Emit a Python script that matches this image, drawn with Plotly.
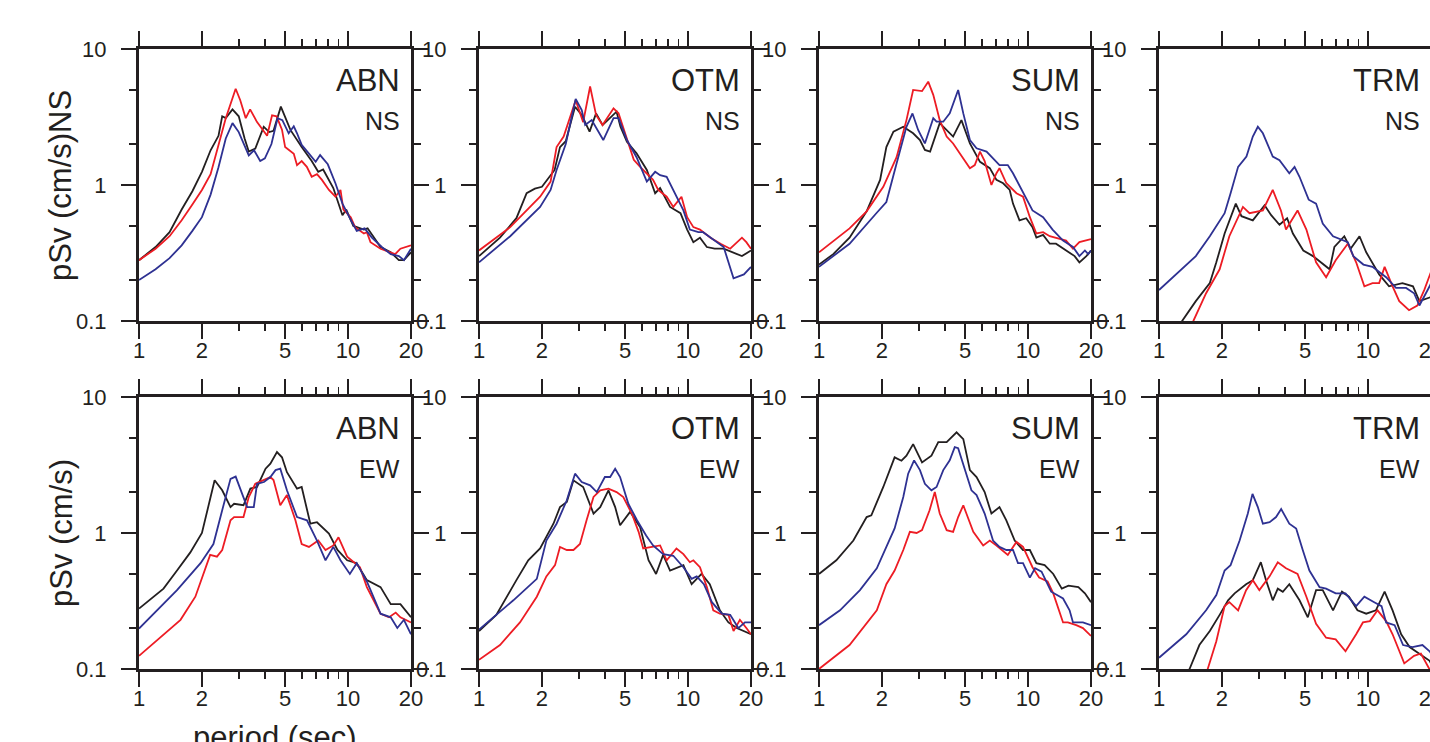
import math
import plotly.graph_objects as go

# ---------------- data (period in s, pSv in cm/s) ----------------
# ABN NS
abn_ns_black_T = [1.0, 1.2, 1.4, 1.6, 1.8, 2.0, 2.2, 2.4, 2.5, 2.6, 2.8, 3.0, 3.2, 3.35, 3.6, 3.95, 4.2, 4.4, 4.77, 5.3, 6.0, 6.7, 7.2, 7.6, 8.5, 9.4, 9.8, 10.6, 11.9, 12.4, 14.3, 16, 17.5, 18.5, 20]
abn_ns_black_V = [0.28, 0.35, 0.45, 0.66, 0.9, 1.25, 1.8, 2.3, 3.2, 3.1, 3.6, 3.2, 2.2, 1.76, 1.85, 2.68, 2.45, 2.5, 3.77, 2.54, 1.9, 1.5, 1.25, 1.3, 0.95, 0.6, 0.66, 0.5, 0.47, 0.48, 0.35, 0.32, 0.28, 0.28, 0.32]
abn_ns_red_T = [1.0, 1.2, 1.4, 1.6, 1.8, 2.0, 2.2, 2.4, 2.6, 2.9, 3.05, 3.24, 3.4, 3.67, 3.96, 4.1, 4.33, 4.55, 4.83, 5.0, 5.5, 5.7, 6.0, 6.35, 6.7, 7.1, 7.5, 8.1, 8.7, 9.2, 9.5, 10.3, 10.8, 11.9, 12.3, 12.8, 14.3, 16, 16.8, 17.8, 20]
abn_ns_red_V = [0.28, 0.34, 0.42, 0.55, 0.72, 0.92, 1.2, 1.95, 3.1, 5.1, 4.2, 3.1, 3.6, 2.9, 2.45, 2.3, 3.25, 3.2, 2.55, 1.9, 1.7, 1.4, 1.5, 1.36, 1.15, 1.2, 1.09, 0.92, 0.82, 0.92, 0.66, 0.58, 0.49, 0.44, 0.45, 0.38, 0.34, 0.32, 0.31, 0.34, 0.36]
abn_ns_blue_T = [1.0, 1.2, 1.4, 1.6, 1.8, 2.0, 2.2, 2.4, 2.6, 2.8, 3.0, 3.2, 3.35, 3.55, 3.8, 4.0, 4.3, 4.6, 4.85, 5.2, 5.5, 5.7, 6.0, 6.5, 7.0, 7.35, 8.0, 8.7, 9.4, 10.2, 11, 12, 13, 14.5, 16, 17.5, 18.5, 20]
abn_ns_blue_V = [0.2, 0.24, 0.29, 0.36, 0.46, 0.58, 0.85, 1.35, 2.2, 2.85, 2.45, 1.95, 1.65, 1.8, 1.5, 1.57, 2.0, 3.1, 3.0, 2.4, 2.7, 2.4, 1.97, 1.7, 1.48, 1.66, 1.42, 1.03, 0.73, 0.57, 0.46, 0.48, 0.41, 0.35, 0.31, 0.3, 0.28, 0.34]

# OTM NS
otm_ns_black_T = [1, 1.26, 1.51, 1.69, 1.85, 2.0, 2.3, 2.44, 2.6, 2.88, 3.1, 3.38, 3.63, 3.9, 4.55, 4.75, 5.1, 5.67, 6.35, 6.96, 7.35, 7.75, 8.2, 9.2, 9.9, 10.6, 11.4, 12.3, 13.4, 14.8, 16.5, 18.1, 20]
otm_ns_black_V = [0.30, 0.41, 0.57, 0.87, 0.94, 0.97, 1.29, 1.9, 2.1, 3.76, 3.27, 2.47, 3.36, 2.76, 3.46, 2.68, 2.08, 1.71, 1.29, 0.87, 0.95, 0.82, 0.69, 0.62, 0.47, 0.38, 0.41, 0.35, 0.34, 0.34, 0.32, 0.30, 0.33]
otm_ns_red_T = [1, 1.41, 1.96, 2.2, 2.35, 2.54, 2.9, 3.15, 3.4, 3.63, 3.9, 4.4, 4.65, 5.1, 5.5, 5.9, 6.35, 6.8, 7.2, 7.9, 8.5, 9.3, 9.9, 10.6, 11.4, 12.8, 14.3, 15.9, 18.1, 19, 20]
otm_ns_red_V = [0.33, 0.49, 0.82, 1.06, 1.9, 2.27, 4.2, 2.9, 5.3, 3.27, 2.76, 3.66, 3.37, 2.14, 1.53, 1.36, 1.22, 1.09, 0.92, 0.82, 0.69, 0.82, 0.58, 0.49, 0.47, 0.41, 0.37, 0.34, 0.41, 0.38, 0.34]
otm_ns_blue_T = [1, 1.41, 1.96, 2.2, 2.35, 2.6, 2.9, 3.1, 3.22, 3.46, 3.93, 4.4, 4.65, 5.1, 5.67, 6.35, 6.96, 7.35, 7.9, 8.5, 9.5, 10.2, 11.2, 11.8, 12.8, 14.8, 16.5, 18.5, 20]
otm_ns_blue_V = [0.27, 0.42, 0.69, 0.92, 1.29, 2.0, 4.3, 3.56, 2.76, 3.0, 2.14, 3.1, 3.1, 2.14, 1.6, 1.06, 1.25, 1.18, 1.15, 0.92, 0.65, 0.47, 0.45, 0.45, 0.41, 0.35, 0.206, 0.22, 0.25]

# SUM NS
sum_ns_black_T = [1, 1.17, 1.4, 1.69, 1.96, 2.1, 2.27, 2.53, 2.82, 3.04, 3.21, 3.4, 3.78, 4.08, 4.38, 4.8, 5.27, 5.89, 6.56, 7.06, 7.6, 8.17, 8.47, 9.1, 9.8, 10.5, 10.96, 11.8, 12.7, 13.6, 15.2, 16.7, 17.6, 19, 20]
sum_ns_black_V = [0.26, 0.31, 0.41, 0.64, 1.09, 1.9, 2.47, 2.68, 2.4, 2.14, 1.81, 1.76, 2.85, 2.54, 2.27, 3.0, 2.02, 1.48, 1.33, 1.09, 1.03, 0.92, 0.73, 0.55, 0.57, 0.49, 0.41, 0.43, 0.37, 0.37, 0.33, 0.30, 0.27, 0.30, 0.33]
sum_ns_red_T = [1, 1.4, 1.69, 2.03, 2.35, 2.62, 2.82, 3.11, 3.33, 3.52, 3.78, 4.08, 4.38, 4.8, 5.27, 5.56, 5.89, 6.2, 6.68, 7.06, 7.3, 7.87, 8.8, 9.46, 10.2, 10.96, 11.8, 12.7, 13.6, 15.2, 16.4, 17.6, 20]
sum_ns_red_V = [0.32, 0.48, 0.64, 0.97, 1.6, 3.0, 5.0, 4.9, 5.75, 4.6, 3.0, 2.27, 2.02, 1.66, 1.33, 1.4, 1.76, 1.5, 1.0, 1.22, 1.33, 1.03, 0.87, 0.82, 0.58, 0.44, 0.45, 0.42, 0.41, 0.39, 0.34, 0.38, 0.40]
sum_ns_blue_T = [1, 1.4, 1.88, 2.1, 2.35, 2.62, 2.8, 2.98, 3.21, 3.52, 3.65, 3.93, 4.22, 4.63, 4.9, 5.27, 5.67, 6.33, 7.3, 8.0, 8.47, 9.46, 10.5, 11.8, 13.1, 14.7, 16.4, 17.6, 18.7, 19.4, 20]
sum_ns_blue_V = [0.25, 0.37, 0.62, 0.75, 1.44, 2.68, 3.36, 2.54, 2.02, 3.1, 2.92, 2.92, 3.36, 5.0, 3.36, 2.14, 1.86, 1.76, 1.4, 1.4, 1.22, 0.87, 0.65, 0.58, 0.47, 0.39, 0.35, 0.30, 0.33, 0.31, 0.33]

# TRM NS
trm_ns_black_T = [1.2, 1.29, 1.5, 1.75, 1.88, 2.06, 2.33, 2.48, 2.81, 3.2, 3.44, 3.77, 4.1, 4.37, 4.9, 5.45, 6.55, 6.9, 7.7, 8.25, 9.1, 9.8, 11.3, 12.6, 14.6, 16.4, 17.6, 19.7, 20]
trm_ns_black_V = [0.08, 0.10, 0.14, 0.19, 0.27, 0.44, 0.73, 0.59, 0.55, 0.71, 0.60, 0.51, 0.57, 0.44, 0.33, 0.30, 0.24, 0.35, 0.42, 0.34, 0.42, 0.32, 0.22, 0.18, 0.19, 0.18, 0.14, 0.15, 0.15]
trm_ns_red_T = [1.3, 1.46, 1.68, 1.95, 2.17, 2.52, 2.71, 3.14, 3.5, 3.83, 4.05, 4.6, 5.07, 5.64, 6.3, 7.0, 8.0, 8.77, 9.6, 10.5, 11.3, 12.0, 13.1, 14.1, 15.7, 17.2, 18.6, 19.7, 20]
trm_ns_red_V = [0.08, 0.10, 0.16, 0.24, 0.42, 0.69, 0.62, 0.65, 0.92, 0.65, 0.47, 0.65, 0.47, 0.27, 0.21, 0.28, 0.37, 0.27, 0.18, 0.19, 0.19, 0.25, 0.18, 0.14, 0.12, 0.13, 0.17, 0.22, 0.23]
trm_ns_blue_T = [1, 1.5, 1.75, 2.06, 2.2, 2.39, 2.62, 2.81, 2.97, 3.14, 3.5, 3.77, 4.2, 4.45, 4.7, 5.2, 5.64, 6.07, 6.8, 8.0, 8.5, 9.5, 10.5, 12.2, 13.6, 15.2, 16.6, 17.6, 19.7, 20]
trm_ns_blue_V = [0.169, 0.30, 0.42, 0.62, 0.87, 1.36, 1.62, 2.27, 2.68, 2.4, 1.62, 1.52, 1.22, 1.36, 1.15, 0.78, 0.73, 0.52, 0.42, 0.38, 0.30, 0.26, 0.25, 0.21, 0.175, 0.175, 0.16, 0.13, 0.18, 0.19]

# ABN EW
abn_ew_black_T = [1, 1.31, 1.52, 1.76, 2.0, 2.3, 2.5, 2.74, 2.85, 3.16, 3.41, 3.67, 4.03, 4.25, 4.57, 4.83, 5.1, 5.7, 6.0, 6.6, 7.1, 8.1, 8.9, 9.9, 11, 12.3, 14.3, 16, 17.8, 20]
abn_ew_black_V = [0.278, 0.39, 0.53, 0.72, 1.0, 2.44, 2.06, 1.55, 1.64, 1.6, 2.12, 2.18, 2.97, 3.23, 3.94, 3.6, 2.8, 2.12, 2.18, 1.17, 1.2, 0.99, 0.75, 0.63, 0.6, 0.45, 0.4, 0.3, 0.3, 0.24]
abn_ew_red_T = [1, 1.26, 1.58, 1.86, 2.19, 2.36, 2.5, 2.74, 2.85, 3.16, 3.35, 3.6, 3.96, 4.25, 4.4, 4.74, 5.1, 5.6, 6.0, 6.5, 7.2, 7.8, 8.5, 9.0, 9.9, 10.6, 11.4, 12.3, 14.3, 15.7, 16.9, 17.8, 20]
abn_ew_red_V = [0.125, 0.17, 0.23, 0.34, 0.69, 0.67, 0.75, 1.24, 1.31, 1.31, 1.84, 2.3, 2.45, 2.58, 2.45, 1.6, 1.9, 1.24, 0.83, 0.79, 0.88, 0.75, 0.81, 0.93, 0.67, 0.61, 0.56, 0.4, 0.255, 0.24, 0.26, 0.24, 0.22]
abn_ew_blue_T = [1, 1.52, 1.97, 2.27, 2.5, 2.74, 2.9, 3.06, 3.29, 3.54, 3.67, 3.96, 4.25, 4.5, 4.74, 5.1, 5.7, 6.36, 7.1, 7.8, 8.5, 9.2, 10.2, 11, 12.3, 14.3, 16, 17.2, 18.5, 20]
abn_ew_blue_V = [0.198, 0.38, 0.6, 0.83, 1.47, 2.5, 2.6, 2.06, 1.55, 1.55, 2.3, 2.37, 2.58, 2.9, 2.97, 2.06, 1.31, 1.24, 0.88, 0.63, 0.79, 0.63, 0.5, 0.6, 0.44, 0.255, 0.24, 0.2, 0.23, 0.18]

# OTM EW
otm_ew_black_T = [1, 1.21, 1.51, 1.72, 1.96, 2.27, 2.44, 2.63, 2.83, 3.15, 3.53, 3.8, 4.16, 4.48, 4.73, 5.28, 5.9, 6.47, 7.03, 7.6, 8.2, 8.8, 9.5, 10.4, 11.6, 12.7, 14.2, 15.6, 17.1, 20]
otm_ew_black_V = [0.19, 0.25, 0.45, 0.63, 0.77, 1.17, 1.55, 1.69, 2.44, 2.18, 1.39, 1.55, 2.06, 1.55, 1.14, 1.43, 1.1, 0.63, 0.5, 0.69, 0.53, 0.55, 0.58, 0.42, 0.5, 0.42, 0.27, 0.22, 0.2, 0.18]
otm_ew_red_T = [1, 1.26, 1.57, 1.89, 2.1, 2.31, 2.44, 2.63, 2.83, 3.04, 3.27, 3.53, 3.8, 4.16, 4.55, 4.9, 5.38, 5.8, 6.1, 6.8, 7.35, 7.9, 8.8, 9.5, 10.2, 10.6, 11.4, 12.3, 13.2, 14.2, 15.6, 16.5, 17.7, 19, 20]
otm_ew_red_V = [0.117, 0.15, 0.22, 0.34, 0.48, 0.58, 0.79, 0.75, 0.75, 0.83, 1.24, 1.84, 2.06, 2.12, 2.0, 1.84, 1.39, 1.02, 0.77, 0.79, 0.81, 0.63, 0.77, 0.7, 0.61, 0.63, 0.56, 0.4, 0.27, 0.255, 0.25, 0.19, 0.23, 0.2, 0.18]
otm_ew_blue_T = [1, 1.21, 1.46, 1.89, 2.1, 2.35, 2.63, 2.88, 3.1, 3.4, 3.66, 4.0, 4.24, 4.48, 4.73, 5.18, 5.7, 6.3, 6.8, 7.6, 8.5, 9.5, 10.4, 11, 11.9, 13, 14.5, 15.9, 17.4, 18.7, 20]
otm_ew_blue_V = [0.195, 0.25, 0.32, 0.46, 0.88, 1.17, 1.74, 2.73, 2.37, 2.24, 2.0, 2.58, 2.58, 2.97, 2.58, 1.64, 1.24, 0.96, 0.81, 0.7, 0.68, 0.56, 0.46, 0.48, 0.42, 0.31, 0.255, 0.25, 0.2, 0.22, 0.22]

# SUM EW
sum_ew_black_T = [1, 1.21, 1.46, 1.69, 1.78, 2.03, 2.3, 2.48, 2.62, 2.82, 3.11, 3.45, 3.72, 4.08, 4.55, 4.9, 5.27, 5.67, 6.2, 6.68, 7.3, 7.87, 8.63, 9.46, 10.2, 10.96, 12, 13.2, 14.5, 15.6, 17.4, 18.7, 20]
sum_ew_black_V = [0.5, 0.63, 0.88, 1.31, 1.35, 2.18, 3.6, 3.4, 3.7, 4.5, 3.3, 3.7, 4.66, 4.66, 5.5, 4.9, 2.9, 2.58, 2.0, 1.39, 1.55, 1.24, 0.88, 0.75, 0.75, 0.6, 0.58, 0.5, 0.39, 0.41, 0.4, 0.36, 0.31]
sum_ew_red_T = [1, 1.4, 1.89, 2.1, 2.3, 2.53, 2.72, 2.93, 3.11, 3.38, 3.58, 3.78, 4.08, 4.38, 4.63, 4.9, 5.07, 5.47, 6.1, 6.56, 7.06, 8.0, 8.8, 9.46, 10.5, 11.3, 12.4, 13.2, 14.7, 15.5, 17, 18.3, 20]
sum_ew_red_V = [0.10, 0.15, 0.27, 0.42, 0.53, 0.75, 1.02, 1.0, 1.05, 1.47, 2.0, 1.39, 1.05, 1.02, 1.31, 1.6, 1.39, 1.02, 0.81, 0.88, 0.81, 0.69, 0.86, 0.79, 0.56, 0.47, 0.44, 0.36, 0.22, 0.22, 0.21, 0.2, 0.175]
sum_ew_blue_T = [1, 1.26, 1.57, 1.89, 2.1, 2.3, 2.53, 2.67, 2.85, 3.04, 3.21, 3.45, 3.65, 3.93, 4.22, 4.46, 4.63, 4.98, 5.36, 5.67, 6.2, 6.8, 7.3, 7.87, 8.47, 8.95, 9.46, 10.2, 10.8, 11.6, 12.9, 14.7, 15.8, 16.4, 18.3, 20]
sum_ew_blue_V = [0.21, 0.27, 0.38, 0.55, 0.79, 1.08, 1.84, 2.73, 3.42, 2.9, 2.3, 2.06, 2.18, 2.9, 3.42, 4.28, 4.2, 2.9, 2.06, 1.9, 1.39, 0.88, 0.79, 0.75, 0.75, 0.6, 0.6, 0.47, 0.55, 0.52, 0.37, 0.33, 0.27, 0.22, 0.22, 0.21]

# TRM EW
trm_ew_black_T = [1.25, 1.4, 1.56, 1.75, 1.95, 2.14, 2.3, 2.61, 2.81, 3.07, 3.25, 3.5, 3.7, 3.91, 4.2, 4.7, 5.15, 5.64, 6.07, 6.8, 7.5, 8.1, 8.9, 9.8, 10.9, 12, 13.1, 14.4, 15.8, 17.6, 19.7, 20]
trm_ew_black_V = [0.07, 0.10, 0.15, 0.19, 0.25, 0.32, 0.36, 0.42, 0.45, 0.61, 0.45, 0.32, 0.39, 0.37, 0.42, 0.32, 0.24, 0.38, 0.38, 0.27, 0.37, 0.34, 0.27, 0.255, 0.27, 0.37, 0.27, 0.18, 0.145, 0.13, 0.115, 0.11]
trm_ew_red_T = [1.5, 1.71, 1.88, 2.06, 2.17, 2.39, 2.61, 2.81, 3.02, 3.38, 3.7, 4.05, 4.6, 5.07, 5.64, 6.3, 7.0, 7.8, 8.77, 9.45, 10.2, 11.1, 12.2, 13.1, 14.9, 16.6, 17.9, 19.7, 20]
trm_ew_red_V = [0.07, 0.10, 0.16, 0.29, 0.31, 0.27, 0.38, 0.45, 0.38, 0.48, 0.61, 0.55, 0.50, 0.34, 0.215, 0.17, 0.165, 0.135, 0.18, 0.22, 0.225, 0.27, 0.225, 0.18, 0.11, 0.125, 0.13, 0.10, 0.095]
trm_ew_blue_T = [1, 1.35, 1.68, 1.88, 2.06, 2.2, 2.43, 2.66, 2.8, 2.97, 3.14, 3.38, 3.63, 3.84, 4.2, 4.53, 4.87, 5.24, 5.86, 6.3, 7.0, 7.8, 8.77, 9.6, 10.7, 11.6, 12.2, 13.4, 14.7, 16.3, 18.2, 19.7, 20]
trm_ew_blue_V = [0.121, 0.18, 0.27, 0.35, 0.53, 0.58, 0.88, 1.39, 1.94, 1.55, 1.17, 1.2, 1.31, 1.5, 1.17, 1.08, 0.75, 0.53, 0.40, 0.39, 0.36, 0.36, 0.29, 0.34, 0.31, 0.29, 0.22, 0.21, 0.15, 0.145, 0.15, 0.135, 0.13]

stations = ["ABN", "OTM", "SUM", "TRM"]
components = ["NS", "EW"]
x_tick_vals = [1, 2, 5, 10, 20]
x_tick_text = ["1", "2", "5", "10", "20"]
x_minor_vals = [3, 4, 6, 7, 8, 9]
y_tick_vals = [0.1, 1, 10]
y_tick_text = ["0.1", "1", "10"]
y_minor_vals = [0.2, 0.5, 2, 5]
y_titles = ["pSv (cm/s)NS", "pSv (cm/s)"]
x_title = "period (sec)"

curves = {
    ("ABN", "NS"): [(abn_ns_black_T, abn_ns_black_V, "black"), (abn_ns_red_T, abn_ns_red_V, "red"), (abn_ns_blue_T, abn_ns_blue_V, "blue")],
    ("OTM", "NS"): [(otm_ns_black_T, otm_ns_black_V, "black"), (otm_ns_red_T, otm_ns_red_V, "red"), (otm_ns_blue_T, otm_ns_blue_V, "blue")],
    ("SUM", "NS"): [(sum_ns_black_T, sum_ns_black_V, "black"), (sum_ns_red_T, sum_ns_red_V, "red"), (sum_ns_blue_T, sum_ns_blue_V, "blue")],
    ("TRM", "NS"): [(trm_ns_black_T, trm_ns_black_V, "black"), (trm_ns_red_T, trm_ns_red_V, "red"), (trm_ns_blue_T, trm_ns_blue_V, "blue")],
    ("ABN", "EW"): [(abn_ew_black_T, abn_ew_black_V, "black"), (abn_ew_red_T, abn_ew_red_V, "red"), (abn_ew_blue_T, abn_ew_blue_V, "blue")],
    ("OTM", "EW"): [(otm_ew_black_T, otm_ew_black_V, "black"), (otm_ew_red_T, otm_ew_red_V, "red"), (otm_ew_blue_T, otm_ew_blue_V, "blue")],
    ("SUM", "EW"): [(sum_ew_black_T, sum_ew_black_V, "black"), (sum_ew_red_T, sum_ew_red_V, "red"), (sum_ew_blue_T, sum_ew_blue_V, "blue")],
    ("TRM", "EW"): [(trm_ew_black_T, trm_ew_black_V, "black"), (trm_ew_red_T, trm_ew_red_V, "red"), (trm_ew_blue_T, trm_ew_blue_V, "blue")],
}

# ---------------- styling ----------------
COLORS = {"black": "#231f20", "red": "#ed1c24", "blue": "#2e3192"}
FRAME = "#231f20"
FONT = "Liberation Sans, Arial, Helvetica, sans-serif"
W, H = 1432, 742          # 1 px wider than the window so the last frame sits just off-screen
OFF = 0                   # body margin is removed by the post_script below
col_px = [(139, 411), (479, 751), (819, 1091), (1159, 1431)]   # window pixels
row_px = [(49, 321), (397, 669)]

def fx(px):
    return (px - OFF) / W

def fy(py):
    return 1 - (py - OFF) / H

fig = go.Figure()
layout = dict(
    width=W, height=H,
    margin=dict(l=0, r=0, t=0, b=0, pad=0, autoexpand=False),
    paper_bgcolor="white", plot_bgcolor="white",
    showlegend=False,
    font=dict(family=FONT, color="#231f20"),
)
annotations = []

for r, comp in enumerate(components):
    for c, st in enumerate(stations):
        idx = r * 4 + c + 1
        xs = "x" if idx == 1 else f"x{idx}"
        ys = "y" if idx == 1 else f"y{idx}"
        for T, V, col in curves[(st, comp)]:
            fig.add_trace(go.Scatter(
                x=T, y=V, mode="lines",
                line=dict(color=COLORS[col], width=1.8),
                xaxis=xs, yaxis=ys, hoverinfo="skip", cliponaxis=True,
            ))
        x0, x1 = col_px[c]
        ytop, ybot = row_px[r]
        common = dict(
            showline=True, linewidth=3, linecolor=FRAME, mirror="ticks",
            ticks="outside", ticklen=15, tickwidth=1.8, tickcolor=FRAME,
            showgrid=False, zeroline=False, fixedrange=True, automargin=False,
            tickfont=dict(size=22, family=FONT, color="#231f20"),
            type="log", tickmode="array", ticklabeloverflow="allow",
        )
        layout["xaxis" if idx == 1 else f"xaxis{idx}"] = dict(
            common, domain=[fx(x0), min(1.0, fx(x1))], anchor=ys,
            range=[0, math.log10(20)],
            tickvals=x_tick_vals, ticktext=x_tick_text,
            ticklabelstandoff=-7,
            minor=dict(tickmode="array", tickvals=x_minor_vals, ticks="outside",
                       ticklen=7, tickwidth=1.8, tickcolor=FRAME, showgrid=False),
        )
        layout["yaxis" if idx == 1 else f"yaxis{idx}"] = dict(
            common, domain=[fy(ybot), fy(ytop)], anchor=xs,
            range=[-1, 1],
            tickvals=y_tick_vals, ticktext=y_tick_text,
            ticklabelstandoff=10,
            minor=dict(tickmode="array", tickvals=y_minor_vals, ticks="outside",
                       ticklen=7, tickwidth=1.8, tickcolor=FRAME, showgrid=False),
        )
        annotations.append(dict(
            text=st, xref=f"{xs} domain", yref=f"{ys} domain",
            x=1 - 9 / 272, y=0.886, xanchor="right", yanchor="middle",
            showarrow=False, font=dict(size=31, family=FONT, color="#231f20"),
        ))
        annotations.append(dict(
            text=comp, xref=f"{xs} domain", yref=f"{ys} domain",
            x=1 - 9 / 272, y=0.735, xanchor="right", yanchor="middle",
            showarrow=False, font=dict(size=25, family=FONT, color="#231f20"),
        ))

for r in range(2):
    ytop, ybot = row_px[r]
    annotations.append(dict(
        text=y_titles[r], xref="paper", yref="paper",
        x=fx(61), y=fy((ytop + ybot) / 2), xanchor="center", yanchor="middle",
        textangle=-90, showarrow=False,
        font=dict(size=31, family=FONT, color="#231f20"),
    ))

annotations.append(dict(
    text=x_title, xref="paper", yref="paper",
    x=fx((col_px[0][0] + col_px[0][1]) / 2), y=fy(718),
    xanchor="center", yanchor="top", showarrow=False,
    font=dict(size=31, family=FONT, color="#231f20"),
))

layout["annotations"] = annotations
fig.update_layout(**layout)
fig.write_html(
    "out.html",
    config={"displayModeBar": False, "staticPlot": True},
    post_script="document.body.style.margin='0px';document.body.style.overflow='hidden';"
                "document.documentElement.style.overflow='hidden';",
)
